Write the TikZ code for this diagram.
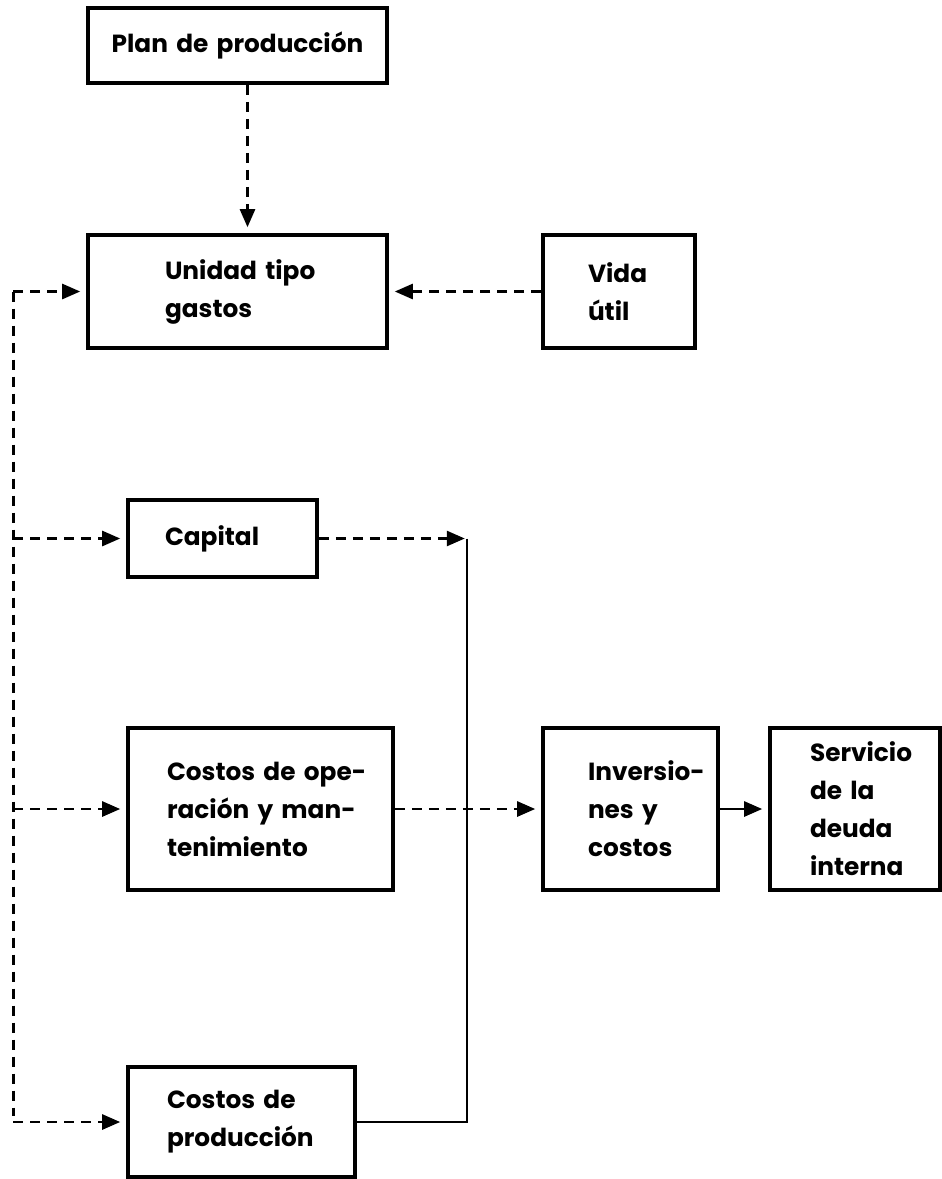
\documentclass[tikz,border=0pt]{standalone}
\usepackage{fontspec}
\setmainfont{Poppins}
\usetikzlibrary{arrows.meta,positioning,calc}

\tikzset{
  caja/.style={draw, line width=1.8pt, rectangle, align=left, inner ysep=0pt,
    font=\bfseries\fontsize{12.4}{19}\selectfont},
  flujo/.style={line width=1.3pt, dash pattern=on 5pt off 3.5pt,
    -{Triangle[length=9pt,width=7.5pt]}, shorten >=3pt},
  linea/.style={line width=1.3pt},
}

\begin{document}
\begin{tikzpicture}[x=0.5pt,y=-0.5pt]
  % marco
  \useasboundingbox (0,0) rectangle (942,1179);

  % cajas
  \node[caja, align=center, text width=149.5pt, inner xsep=0pt, minimum height=37.5pt] (plan) at (237.5,45.5) {Plan de producción};
  \node[caja, text width=72.5pt, inner xsep=38.5pt, minimum height=56.5pt] (unidad) at (237.5,291.5) {\mbox{Unidad tipo}\\gastos};
  \node[caja, text width=31pt, inner xsep=22.5pt, minimum height=56.5pt] (vida) at (619,291.5) {Vida\\útil};
  \node[caja, text width=57.5pt, inner xsep=18.5pt, minimum height=38.5pt] (capital) at (222.5,538.5) {Capital};
  \node[caja, text width=93.5pt, inner xsep=19.5pt, minimum height=81pt] (costosop) at (260.5,809) {\mbox{Costos de ope-}\\\mbox{ración y man-}\\tenimiento};
  \node[caja, text width=42.5pt, inner xsep=22.5pt, minimum height=81pt] (inversiones) at (630.5,809) {\mbox{Inversio-}\\\mbox{nes y}\\costos};
  \node[caja, text width=45pt, inner xsep=20pt, minimum height=81pt] (servicio) at (855,809) {Servicio\\\mbox{de la}\\deuda\\interna};
  \node[caja, text width=74.5pt, inner xsep=19.5pt, minimum height=55pt] (prod) at (241.5,1122) {\mbox{Costos de}\\producción};

  % puntos de union
  \coordinate (bustop) at ([xshift=-36.5pt]unidad.west);
  \coordinate (busbot) at (bustop |- prod.west);
  \coordinate (junta) at ([xshift=74pt]capital.east);

  % flechas
  \draw[flujo] ([xshift=5pt]plan.south) -- ([xshift=5pt]unidad.north);
  \draw[flujo] (vida.west) -- (unidad.east);
  \draw[flujo, -] (bustop) -- (busbot);
  \draw[flujo] (bustop) -- (unidad.west);
  \draw[flujo] (bustop |- capital.west) -- (capital.west);
  \draw[flujo] (bustop |- costosop.west) -- (costosop.west);
  \draw[flujo] (busbot) -- (prod.west);
  \draw[flujo, shorten >=1pt] (capital.east) -- (junta);
  \draw[linea] (junta) -- (junta |- prod.east) -- (prod.east);
  \draw[flujo] (costosop.east) -- (inversiones.west);
  \draw[linea, -{Triangle[length=9pt,width=7.5pt]}, shorten >=3pt] (inversiones.east) -- (servicio.west);
\end{tikzpicture}
\end{document}
